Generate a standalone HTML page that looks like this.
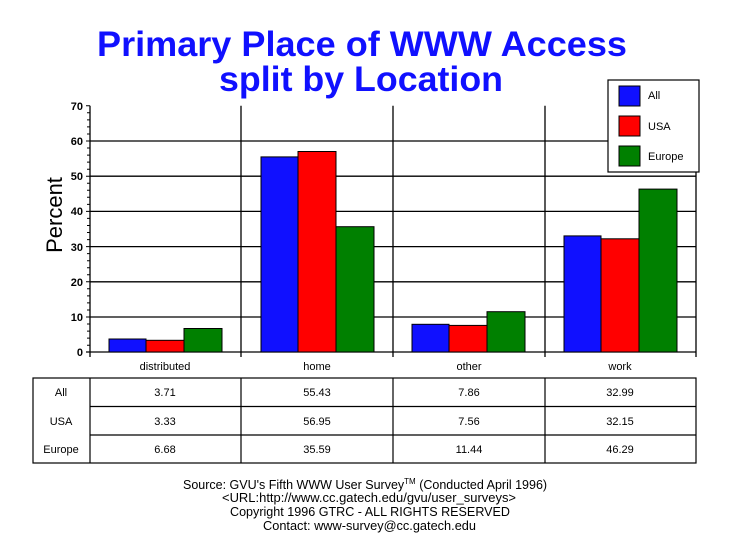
<!DOCTYPE html>
<html><head><style>
body{margin:0;background:#fff;}
svg text{font-family:"Liberation Sans",Arial,sans-serif;}
</style></head><body>
<svg width="729" height="553" viewBox="0 0 729 553" xmlns="http://www.w3.org/2000/svg">
<rect width="729" height="553" fill="#fff"/>
<text x="97" y="56" font-size="35" font-weight="bold" fill="#1010ff" textLength="530" lengthAdjust="spacingAndGlyphs">Primary Place of WWW Access</text>
<text x="219" y="91" font-size="35" font-weight="bold" fill="#1010ff" textLength="284" lengthAdjust="spacingAndGlyphs">split by Location</text>
<g stroke="#000" stroke-width="1.3">
<line x1="90" y1="317" x2="696" y2="317"/>
<line x1="90" y1="281.8" x2="696" y2="281.8"/>
<line x1="90" y1="246.6" x2="696" y2="246.6"/>
<line x1="90" y1="211.4" x2="696" y2="211.4"/>
<line x1="90" y1="176.2" x2="696" y2="176.2"/>
<line x1="90" y1="141" x2="696" y2="141"/>
<line x1="90" y1="105.8" x2="90" y2="357"/>
<line x1="241" y1="105.8" x2="241" y2="357"/>
<line x1="393" y1="105.8" x2="393" y2="357"/>
<line x1="545" y1="105.8" x2="545" y2="357"/>
<line x1="696" y1="105.8" x2="696" y2="357"/>
<line x1="86" y1="352" x2="696" y2="352"/>
</g>
<g stroke="#000" stroke-width="1">
<path d="M86 105.8H90M87 112.8H90M87 119.9H90M87 126.9H90M87 134H90M86 141H90M87 148H90M87 155.1H90M87 162.1H90M87 169.2H90M86 176.2H90M87 183.2H90M87 190.3H90M87 197.3H90M87 204.4H90M86 211.4H90M87 218.4H90M87 225.5H90M87 232.5H90M87 239.6H90M86 246.6H90M87 253.6H90M87 260.7H90M87 267.7H90M87 274.8H90M86 281.8H90M87 288.8H90M87 295.9H90M87 302.9H90M87 310H90M86 317H90M87 324H90M87 331.1H90M87 338.1H90M87 345.2H90"/>
</g>
<g font-size="11" font-weight="bold" text-anchor="end">
<text x="83" y="356">0</text><text x="83" y="321">10</text><text x="83" y="286">20</text>
<text x="83" y="251">30</text><text x="83" y="215">40</text><text x="83" y="180">50</text>
<text x="83" y="145">60</text><text x="83" y="110">70</text>
</g>
<text transform="translate(62,215) rotate(-90)" font-size="22" text-anchor="middle">Percent</text>
<g stroke="#000" stroke-width="1">
<rect x="109" y="339" width="37" height="13" fill="#1010ff"/>
<rect x="146" y="340.3" width="38" height="11.7" fill="#ff0000"/>
<rect x="184" y="328.5" width="38" height="23.5" fill="#008000"/>
<rect x="261" y="156.9" width="37" height="195.1" fill="#1010ff"/>
<rect x="298" y="151.5" width="38" height="200.5" fill="#ff0000"/>
<rect x="336" y="226.7" width="38" height="125.3" fill="#008000"/>
<rect x="412" y="324.3" width="37" height="27.7" fill="#1010ff"/>
<rect x="449" y="325.4" width="38" height="26.6" fill="#ff0000"/>
<rect x="487" y="311.7" width="38" height="40.3" fill="#008000"/>
<rect x="564" y="235.9" width="37" height="116.1" fill="#1010ff"/>
<rect x="601" y="238.8" width="38" height="113.2" fill="#ff0000"/>
<rect x="639" y="189.1" width="38" height="162.9" fill="#008000"/>
</g>
<g font-size="11" text-anchor="middle">
<text x="165" y="370">distributed</text><text x="317" y="370">home</text>
<text x="469" y="370">other</text><text x="620" y="370">work</text>
</g>
<g stroke="#000" stroke-width="1.2" fill="none">
<rect x="33" y="378" width="663" height="85"/>
<line x1="90" y1="378" x2="90" y2="463"/>
<line x1="241" y1="378" x2="241" y2="463"/>
<line x1="393" y1="378" x2="393" y2="463"/>
<line x1="545" y1="378" x2="545" y2="463"/>
<line x1="90" y1="406.5" x2="696" y2="406.5"/>
<line x1="90" y1="435" x2="696" y2="435"/>
</g>
<g font-size="11" text-anchor="middle">
<text x="61" y="396">All</text><text x="165" y="396">3.71</text><text x="317" y="396">55.43</text><text x="469" y="396">7.86</text><text x="620" y="396">32.99</text>
<text x="61" y="425">USA</text><text x="165" y="425">3.33</text><text x="317" y="425">56.95</text><text x="469" y="425">7.56</text><text x="620" y="425">32.15</text>
<text x="61" y="453">Europe</text><text x="165" y="453">6.68</text><text x="317" y="453">35.59</text><text x="469" y="453">11.44</text><text x="620" y="453">46.29</text>
</g>
<rect x="608" y="80" width="91" height="92" fill="#fff" stroke="#000" stroke-width="1.2"/>
<g stroke="#000" stroke-width="1">
<rect x="619" y="86" width="21" height="20" fill="#1010ff"/>
<rect x="619" y="116" width="21" height="20" fill="#ff0000"/>
<rect x="619" y="146" width="21" height="20" fill="#008000"/>
</g>
<g font-size="11"><text x="648" y="99">All</text><text x="648" y="130">USA</text><text x="648" y="160">Europe</text></g>
<g font-size="12.5">
<text x="183" y="489">Source: GVU's Fifth WWW User Survey<tspan font-size="8" dy="-5">TM</tspan><tspan dy="5">  (Conducted April 1996)</tspan></text>
<text x="222" y="502" textLength="294" lengthAdjust="spacingAndGlyphs">&lt;URL:http://www.cc.gatech.edu/gvu/user_surveys&gt;</text>
<text x="230" y="516" textLength="280" lengthAdjust="spacingAndGlyphs">Copyright 1996 GTRC -  ALL RIGHTS RESERVED</text>
<text x="263" y="530" textLength="213" lengthAdjust="spacingAndGlyphs">Contact: www-survey@cc.gatech.edu</text>
</g>
</svg>
</body></html>
